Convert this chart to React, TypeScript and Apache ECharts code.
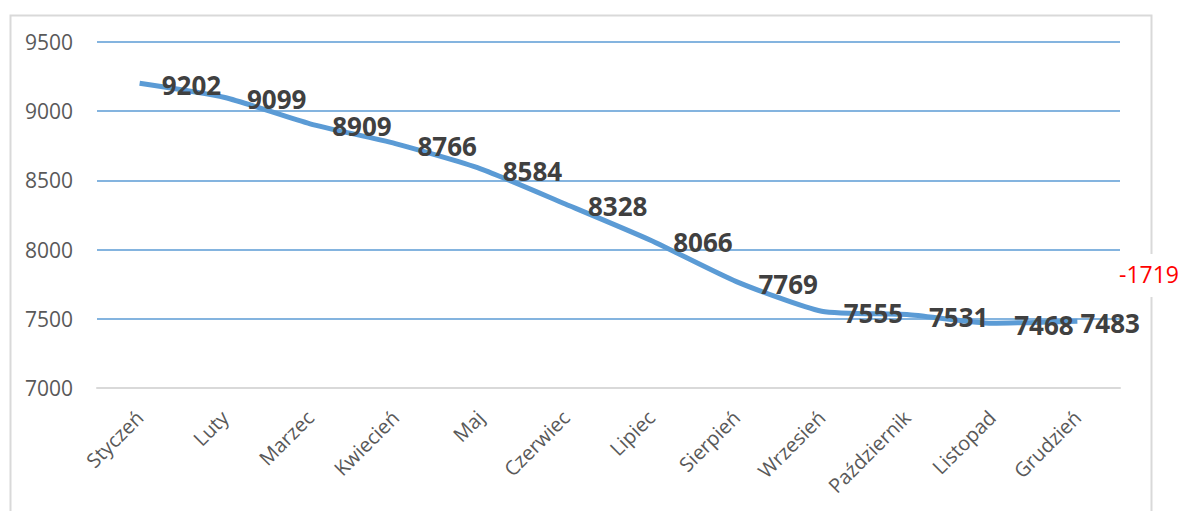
import React, { useEffect, useRef } from "react";
import * as echarts from "echarts";

const months = ["Styczeń", "Luty", "Marzec", "Kwiecień", "Maj", "Czerwiec", "Lipiec", "Sierpień", "Wrzesień", "Październik", "Listopad", "Grudzień"];
const values = [9202, 9099, 8909, 8766, 8584, 8328, 8066, 7769, 7555, 7531, 7468, 7483];
const yMin = 7000;
const yMax = 9500;
const yStep = 500;
const diffText = "-1719";

export default function App() {
  const ref = useRef<HTMLDivElement>(null);
  useEffect(() => {
    if (!ref.current) return;
    const chart = echarts.init(ref.current, null, { renderer: "svg" });
    const data = values.map((v, i) => ({
      value: v,
      label: { distance: i === values.length - 1 ? 3 : 22 },
    }));
    chart.setOption({
      animation: false,
      grid: { left: 97, right: 62, top: 42, bottom: 123, outerBoundsMode: "none", containLabel: false },
      xAxis: {
        type: "category",
        data: months,
        boundaryGap: true,
        axisLine: { show: true, lineStyle: { color: "#D9D9D9", width: 2 } },
        axisTick: { show: false },
        axisLabel: { rotate: 45, margin: 26, fontSize: 20, color: "#595959", fontFamily: "Open Sans", interval: 0 },
      },
      yAxis: {
        type: "value",
        min: yMin,
        max: yMax,
        interval: yStep,
        axisLine: { show: false },
        axisTick: { show: false },
        axisLabel: { fontSize: 21, color: "#595959", fontFamily: "Open Sans", margin: 24, formatter: (v: number) => String(v) },
        splitLine: { lineStyle: { color: "#5B9BD5", width: 1.5 } },
      },
      series: [
        {
          type: "line",
          data,
          smooth: 0.2,
          symbol: "circle",
          symbolSize: 0.1,
          showSymbol: true,
          itemStyle: { color: "rgba(91,155,213,0)" },
          lineStyle: { color: "#5B9BD5", width: 5 },
          label: {
            show: true,
            position: "right",
            fontSize: 26,
            fontWeight: "bold",
            color: "#404040",
            fontFamily: "Open Sans",
            offset: [0, 2],
          },
          z: 3,
        },
      ],
      graphic: [
        {
          type: "rect",
          left: 8,
          top: 13,
          shape: { width: 1141, height: 520 },
          style: { fill: "none", stroke: "#D9D9D9", lineWidth: 2 },
          z: -1,
        },
        {
          type: "text",
          left: 1117,
          top: 254,
          style: {
            text: diffText,
            fill: "#FF0000",
            fontSize: 23,
            fontFamily: "Open Sans",
            backgroundColor: "#FFFFFF",
            padding: [8, 2, 12, 2],
          },
          z: 10,
        },
      ],
    });
    return () => chart.dispose();
  }, []);
  return <div ref={ref} style={{ position: "absolute", left: 0, top: 0, width: 1182, height: 511 }} />;
}
